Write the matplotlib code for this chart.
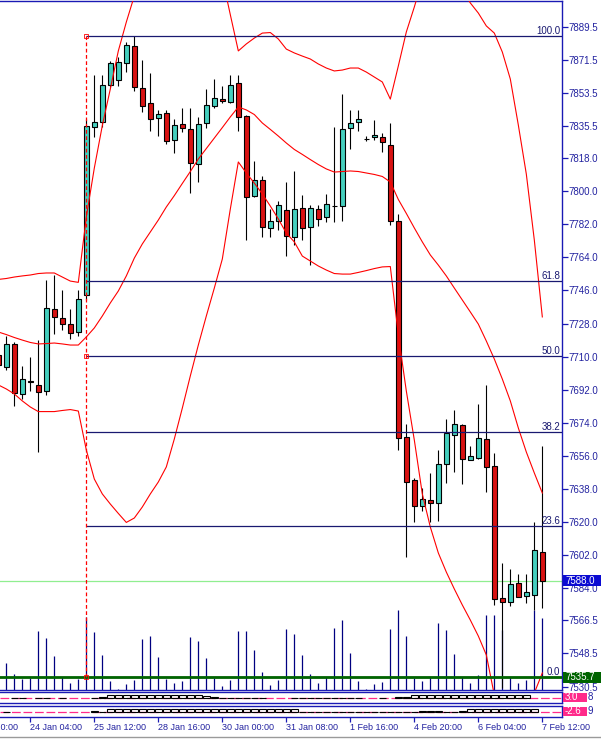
import numpy as np
import matplotlib
matplotlib.use("Agg")
import matplotlib.pyplot as plt
import matplotlib.transforms as mtrans
from matplotlib.patches import Rectangle
from matplotlib.lines import Line2D

plt.rcParams['font.family'] = ['Liberation Sans', 'DejaVu Sans']

# --- H4 bars, index -1 .. 67 ---
bars = np.arange(-1, 68)

opens = [7711, 7704.5, 7717, 7689.5, 7697, 7694.5, 7691.5, 7736, 7731, 7727.5, 7723.5,
         7743.5, 7835, 7837.5, 7857.5, 7860.5, 7869.5, 7879, 7856, 7848, 7840,
         7842.5, 7828, 7836.5, 7834, 7815, 7837, 7846.5, 7850, 7848.5, 7859,
         7841, 7797.5, 7806, 7780, 7784, 7790, 7775, 7791, 7780.5, 7790.5,
         7786, 7792, 7792, 7834.5, 7837.5, 7828.5, 7829.5, 7829.5, 7825, 7784,
         7666.5, 7643, 7629, 7632, 7630.5, 7651.5, 7667.5, 7673, 7654, 7655,
         7665, 7650.5, 7578.5, 7576.5, 7587, 7580, 7580.5, 7603.5]
highs = [7713.5, 7721, 7718, 7705, 7710, 7719, 7751.5, 7754.5, 7746, 7736, 7746,
         7839, 7863, 7863, 7871, 7873, 7881, 7884.5, 7871.5, 7864.5, 7844,
         7844, 7839, 7845.5, 7845.5, 7840.5, 7855.5, 7861, 7857, 7863, 7863,
         7841.5, 7816.5, 7808.5, 7790.5, 7794.5, 7805, 7811, 7798, 7792.5, 7792.5,
         7798.5, 7835, 7853, 7844, 7844, 7830, 7838.5, 7831.5, 7837, 7787.5,
         7673.5, 7644, 7638.5, 7646.5, 7659, 7676, 7681, 7673.5, 7661.5, 7684,
         7694.5, 7657.5, 7597.5, 7594.5, 7591.5, 7591.5, 7620, 7661.5]
lows = [7701.5, 7702.5, 7683, 7687, 7691.5, 7658, 7689, 7722.5, 7724.5, 7719.5, 7721,
        7741, 7829.5, 7835, 7856.5, 7857, 7865, 7854.5, 7843, 7832.5, 7830,
        7825.5, 7821, 7832, 7799, 7805, 7834.5, 7845, 7848, 7848, 7832.5,
        7773.5, 7797, 7775, 7775, 7779, 7764.5, 7770.5, 7773.5, 7760, 7781,
        7783.5, 7783.5, 7784, 7823, 7832.5, 7827.5, 7828, 7821.5, 7781.5, 7659,
        7601, 7620, 7626, 7620, 7620.5, 7641, 7647, 7640.5, 7653.5, 7654.5,
        7636.5, 7575, 7530, 7574.5, 7579, 7576, 7572, 7573.5]
closes = [7705.5, 7717, 7690, 7698, 7696, 7691, 7736.5, 7731.5, 7728, 7723, 7741.5,
          7835.5, 7837.5, 7858, 7870, 7870.5, 7879.5, 7856.5, 7846.5, 7839.5, 7842,
          7827.5, 7836, 7834.5, 7815.5, 7836.5, 7847, 7850.5, 7849, 7858, 7840.5,
          7797, 7806, 7780.5, 7784, 7792.5, 7775.5, 7790.5, 7780, 7791, 7785,
          7793, 7792, 7834, 7837, 7839.5, 7828.5, 7830.5, 7827, 7784, 7666,
          7642, 7628.5, 7632.5, 7630.5, 7651.5, 7668.5, 7673.5, 7654.5, 7656, 7665.5,
          7650, 7578, 7576.5, 7586.5, 7579.5, 7582, 7605, 7588]
volumes = [500, 683, 400, 275, 308, 1475, 1308, 858, 318, 183, 275,
           1818, 1450, 883, 225, 25, 158, 250, 1283, 1358, 833,
           275, 168, 225, 1333, 1233, 808, 308, 100, 250, 1483,
           1483, 1000, 458, 125, 250, 1525, 1400, 875, 400, 183,
           333, 1558, 1750, 933, 225, 25, 150, 208, 1525, 2000,
           1350, 308, 225, 333, 1668, 1500, 900, 333, 183, 375,
           1875, 1875, 1500, 333, 168, 250, 2000, 1793]

bb_upper = [7752.0, 7752.5, 7753.3, 7753.9, 7754.4, 7755.2, 7755.5, 7755.5, 7753.3, 7751.1, 7750.4,
            7786.0, 7812.6, 7835.7, 7855.6, 7876.3, 7892.0, 7906.2, 7919.2, 7930.1, 7938.8,
            7944.8, 7947.5, 7947.5, 7945.3, 7941.0, 7935.0, 7926.8, 7916.0, 7896.0, 7876.3,
            7880.1, 7883.3, 7886.0, 7886.3, 7882.8, 7877.3, 7875.2, 7873.5, 7871.9, 7869.2,
            7867.0, 7865.4, 7865.9, 7867.0, 7867.0, 7864.8, 7862.1, 7859.4, 7850.1, 7868.1,
            7886.6, 7900.2, 7914.9, 7924.7, 7928.5, 7925.8, 7917.6, 7909.4, 7902.4, 7896.9,
            7889.9, 7886.0, 7875.7, 7861.0, 7836.0, 7809.3, 7773.4, 7731.6]
bb_middle = [7723.4, 7722.0, 7720.4, 7719.0, 7717.7, 7716.9, 7717.1, 7717.4, 7716.9, 7716.3, 7716.3,
             7720.7, 7725.6, 7732.1, 7739.2, 7745.7, 7753.9, 7763.6, 7771.3, 7777.8, 7784.3,
             7791.4, 7797.6, 7804.2, 7810.7, 7817.5, 7823.2, 7828.9, 7834.6, 7840.4, 7845.8,
             7844.2, 7841.7, 7837.1, 7833.6, 7830.0, 7826.2, 7822.7, 7820.0, 7817.2, 7814.5,
             7812.1, 7810.4, 7810.7, 7811.0, 7810.7, 7809.9, 7809.1, 7808.0, 7805.0, 7795.5,
             7787.9, 7780.0, 7772.4, 7765.3, 7759.8, 7753.9, 7747.3, 7740.8, 7734.3, 7727.7,
             7718.5, 7708.7, 7697.8, 7685.9, 7671.2, 7658.1, 7646.7, 7635.8]
bb_lower = [7694.6, 7692.4, 7689.7, 7685.9, 7682.6, 7680.1, 7680.1, 7680.1, 7680.7, 7681.2, 7680.4,
            7659.2, 7643.4, 7635.3, 7629.8, 7624.7, 7619.8, 7622.2, 7628.2, 7635.3, 7641.8,
            7650.0, 7665.2, 7682.0, 7699.5, 7716.3, 7732.1, 7747.3, 7763.1, 7790.3, 7815.9,
            7809.9, 7804.4, 7798.5, 7791.9, 7784.9, 7777.2, 7772.4, 7764.7, 7762.0, 7759.3,
            7757.1, 7755.2, 7754.9, 7754.9, 7755.8, 7756.8, 7757.9, 7758.8, 7759.0, 7721.8,
            7691.3, 7664.6, 7635.3, 7617.3, 7603.2, 7592.8, 7583.6, 7574.9, 7566.7, 7558.0,
            7547.7, 7525.9, 7506.9, 7493.3, 7493.3, 7506.9, 7527.0, 7537.9]

nan = np.nan
sub1 = [nan, nan, 0, 0, nan, 0, 0, nan, 0, nan, nan,
        nan, 0, 0.3, 1, 1, 1, 1, 1, 1, 1,
        1, 1, 1, 1, 1, 0.6, 0.3, 0, 0, 0,
        0, 0, 0, nan, nan, nan, 0.2, 0, 0, 0,
        0, 0, 0, 0.2, 0, nan, nan, 0, nan, 0.3,
        0.3, 1, 1, 1, 1, 1, 1, 1, 1, 1,
        1, 1, 1, 1, 1, 1, nan, nan]
sub2 = [nan, 0, nan, nan, nan, nan, nan, nan, nan, nan, nan,
        nan, 0.2, 0, 1, 1, 1, 1, 1, 1, 1,
        1, 1, 1, 1, 1, 1, 1, 1, 1, 1,
        1, 1, 1, 1, 1, 1, 1, 0, 0, 0,
        0, 0, 0, 0, 0, 0, 0, 0, 0, 0,
        0, 0, 0.2, 0.2, 0.2, 0, 0, 0.3, 1, 1,
        1, 1, 1, 1, 1, 1, 1, nan]

fib_pcts = [0.0, 23.6, 38.2, 50.0, 61.8, 100.0]
fib_low, fib_high = 7535.7, 7884.5
fib_bar = 10
bid = 7588.0

price_ticks = [7889.5, 7871.5, 7853.5, 7835.5, 7818.0, 7800.0, 7782.0, 7764.0, 7746.0, 7728.0,
               7710.0, 7692.0, 7674.0, 7656.0, 7638.0, 7620.0, 7602.0, 7584.0, 7566.5,
               7548.5, 7530.5]
time_ticks = [-5, 3, 11, 19, 27, 35, 43, 51, 59, 67]
time_labels = ['22 Jan 20:00', '24 Jan 04:00', '25 Jan 12:00', '28 Jan 16:00', '30 Jan 00:00',
               '31 Jan 08:00', '1 Feb 16:00', '4 Feb 20:00', '6 Feb 04:00', '7 Feb 12:00']

# --- colours ---
BULL = '#45cfbe'
BEAR = '#d81212'
FRAME = '#1a1ab4'
TXT = '#2323a0'
FIB = '#191970'
PINK = '#ff2a8a'

W, H = 601, 739
fig = plt.figure(figsize=(W / 100, H / 100), dpi=100)


def box(x0, y0, x1, y1):
    return [x0 / W, 1 - y1 / H, (x1 - x0) / W, (y1 - y0) / H]


ax = fig.add_axes(box(0, 1, 562, 690))
ax1 = fig.add_axes(box(0, 692, 562, 703))
ax2 = fig.add_axes(box(0, 706, 562, 717))

xlim = (-0.79, 69.46)
for a in (ax, ax1, ax2):
    a.set_xlim(*xlim)
    a.set_facecolor('white')
    a.spines['left'].set_visible(False)
    for s in ('top', 'bottom', 'right'):
        a.spines[s].set_color(FRAME)
        a.spines[s].set_linewidth(1)
    a.set_xticks([])
    a.set_yticks([])

ax.set_ylim(7528.64, 7903.46)

# volumes (drawn from the window bottom)
vol_top = 17225
ax.vlines(bars, 0, np.array(volumes) / vol_top, transform=ax.get_xaxis_transform(),
          color='#000080', lw=0.9, zorder=1)

# bid line and green level
ax.axhline(bid, color='#90ee90', lw=0.9, zorder=1.5)
ax.axhline(fib_low, color='#006400', lw=2, zorder=5)

# candles
o = np.array(opens); h = np.array(highs); l = np.array(lows); c = np.array(closes)
ax.vlines(bars, l, h, color='black', lw=0.8, zorder=2)
bw = 0.6
for x, oo, cc in zip(bars, o, c):
    if cc > oo:
        fc = BULL
    elif cc < oo:
        fc = BEAR
    else:
        fc = 'black'
    ax.add_patch(Rectangle((x - bw / 2, min(oo, cc)), bw, abs(cc - oo), facecolor=fc,
                           edgecolor='black', lw=0.8, zorder=3))

# bollinger bands
for band in (bb_upper, bb_middle, bb_lower):
    ax.plot(bars, band, color='red', lw=0.8, zorder=4)

# fibonacci retracement
fib_prices = [fib_low + (fib_high - fib_low) * p / 100 for p in fib_pcts]
ax.hlines(fib_prices, fib_bar, xlim[1], color=FIB, lw=0.9, zorder=4.5)
ax.vlines(fib_bar, fib_low, fib_high, color='red', lw=0.9, linestyles=(0, (3, 2)), zorder=6)
ax.plot([fib_bar] * 3, [fib_high, (fib_high + fib_low) / 2, fib_low], 's', ms=2.5,
        mfc='none', mec='red', mew=0.6, zorder=6)
trx = mtrans.blended_transform_factory(ax.transAxes, ax.transData)
for p, y in zip(fib_pcts, fib_prices):
    ax.text(560 / 562, y, f'{p:.1f}', transform=trx, ha='right', va='bottom',
            fontsize=7, color=FIB, zorder=7)

# right price axis
ax.yaxis.tick_right()
ax.set_yticks(price_ticks)
ax.set_yticklabels([f'{t:.1f}' for t in price_ticks])
ax.tick_params(axis='y', direction='out', length=4, width=0.9, color=FRAME,
               labelcolor=TXT, labelsize=7, pad=1)

ppx = (7903.46 - 7528.64) / 689
for val, col in ((bid, '#0a0ad2'), (fib_low, '#006400')):
    ax.add_patch(Rectangle((1 + 1.3 / 562, val - 5.5 * ppx), 38 / 562, 11 * ppx,
                           transform=trx, facecolor=col, edgecolor='none',
                           clip_on=False, zorder=9))
    ax.text(1 + 3.5 / 562, val, f'{val:.1f}', transform=trx, ha='left', va='center',
            fontsize=7, color='white', clip_on=False, zorder=10)

# small indicator windows
ax1.set_ylim(-1.42, 1.9)
ax2.set_ylim(-1.96, 2.11)
for a, vals, lab, tail in ((ax1, sub1, '3.0', '8'), (ax2, sub2, '-2.6', '9')):
    a.axhline(0, color=PINK, lw=0.9, dashes=(7, 2.2), zorder=1)
    v = np.array(vals, dtype=float)
    m = ~np.isnan(v)
    a.bar(bars[m], v[m], width=0.92, fill=False, edgecolor='black', lw=0.8, zorder=2)
    ta = mtrans.blended_transform_factory(a.transAxes, a.transAxes)
    a.text(1 + 26 / 562, 0.5, tail, transform=ta, ha='left', va='center', fontsize=7,
           color=TXT, clip_on=False)
    a.add_patch(Rectangle((1 + 1.3 / 562, 0.12), 24 / 562, 0.76, transform=ta,
                          facecolor=PINK, edgecolor='none', clip_on=False, zorder=5))
    a.text(1 + 3 / 562, 0.5, lab, transform=ta, ha='left', va='center', fontsize=7,
           color='white', clip_on=False, zorder=6)

# time axis
vis = [t for t in time_ticks if t > xlim[0]]
ax2.set_xticks(vis)
ax2.set_xticklabels([])
ax2.tick_params(axis='x', direction='out', length=3.5, width=0.9, color=FRAME)
tb = mtrans.blended_transform_factory(ax2.transData, ax2.transAxes)
for t, s in zip(time_ticks, time_labels):
    ax2.text(t - 0.05, -10 / 11, s, transform=tb, ha='left', va='center', fontsize=6.5,
             color=TXT, clip_on=False)

fig.add_artist(Line2D([0, 1], [1 - 737 / H] * 2, transform=fig.transFigure,
                      color='#9a9a9a', lw=1))

fig.savefig('out.png', dpi=100)
